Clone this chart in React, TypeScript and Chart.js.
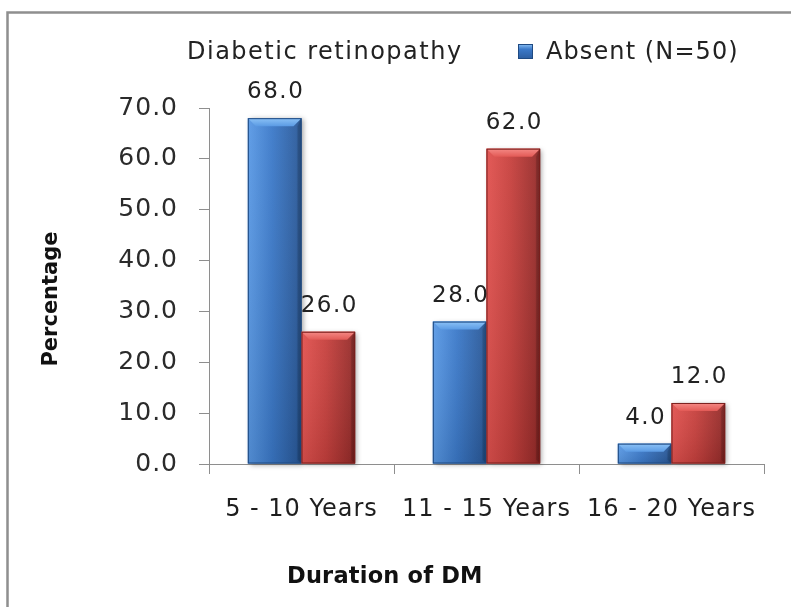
import React, { useEffect, useRef } from 'react';
import { Chart, registerables } from 'chart.js';

Chart.register(...registerables);

const categories = ['5 - 10 Years', '11 - 15 Years', '16 - 20 Years'];
const absentValues = [68.0, 28.0, 4.0];
const presentValues = [26.0, 62.0, 12.0];
const seriesLabels = ['Absent (N=50)', 'Present (N=50)'];
const legendTitle = 'Diabetic retinopathy';
const xAxisTitle = 'Duration of DM';
const yAxisTitle = 'Percentage';
const yTicks = [0, 10, 20, 30, 40, 50, 60, 70];

const FAMILY = "'DejaVu Sans', sans-serif";

const palettes = [
  { light: '#5a9ae6', mid: '#3b79c9', dark: '#2c5d9f', edge: '#1f4a82', bevelTop: '#8cc2f6', bevelBot: '#5b9be4' },
  { light: '#e2524f', mid: '#c7403d', dark: '#9c2e2c', edge: '#7a1f1d', bevelTop: '#f58a86', bevelBot: '#e25a56' },
];

const decorPlugin = {
  id: 'decor',
  beforeDraw(chart: any) {
    const ctx = chart.ctx;
    ctx.save();
    ctx.fillStyle = '#ffffff';
    ctx.fillRect(0, 0, chart.width, chart.height);
    ctx.strokeStyle = '#8f8f8f';
    ctx.lineWidth = 2.5;
    ctx.strokeRect(7.5, 12.5, chart.width + 40, chart.height + 40);
    ctx.restore();
    ctx.letterSpacing = '1px';
  },
  afterDatasetsDraw(chart: any) {
    const ctx = chart.ctx;
    chart.data.datasets.forEach((ds: any, di: number) => {
      const meta = chart.getDatasetMeta(di);
      const pal = palettes[di];
      meta.data.forEach((bar: any) => {
        const { x, y, base, width } = bar.getProps(['x', 'y', 'base', 'width'], true);
        const l = x - width / 2;
        const r = x + width / 2;
        const t = Math.min(y, base);
        const b = Math.max(y, base);
        const h = b - t;
        ctx.save();
        ctx.shadowColor = 'rgba(0,0,0,0.35)';
        ctx.shadowBlur = 5;
        ctx.shadowOffsetX = 2;
        ctx.shadowOffsetY = 1;
        const g = ctx.createLinearGradient(l, 0, r, 0);
        g.addColorStop(0, pal.light);
        g.addColorStop(0.45, pal.mid);
        g.addColorStop(0.9, pal.dark);
        g.addColorStop(1, pal.edge);
        ctx.fillStyle = g;
        ctx.fillRect(l, t, width, h);
        ctx.restore();

        ctx.save();
        const vg = ctx.createLinearGradient(0, t, 0, b);
        vg.addColorStop(0, 'rgba(255,255,255,0.05)');
        vg.addColorStop(1, 'rgba(0,0,0,0.10)');
        ctx.fillStyle = vg;
        ctx.fillRect(l, t, width, h);
        const bv = Math.min(8, h / 2, width / 4);
        const tg = ctx.createLinearGradient(0, t, 0, t + bv);
        tg.addColorStop(0, pal.bevelTop);
        tg.addColorStop(1, pal.bevelBot);
        ctx.fillStyle = tg;
        ctx.beginPath();
        ctx.moveTo(l, t);
        ctx.lineTo(r, t);
        ctx.lineTo(r - bv, t + bv);
        ctx.lineTo(l + bv, t + bv);
        ctx.closePath();
        ctx.fill();
        ctx.fillStyle = 'rgba(0,0,0,0.12)';
        ctx.beginPath();
        ctx.moveTo(r, t);
        ctx.lineTo(r, b);
        ctx.lineTo(r - 4, b - 4);
        ctx.lineTo(r - 4, t + bv);
        ctx.closePath();
        ctx.fill();
        ctx.strokeStyle = pal.edge;
        ctx.lineWidth = 1;
        ctx.strokeRect(l + 0.5, t + 0.5, width - 1, h - 1);
        ctx.restore();
      });
    });

    ctx.save();
    ctx.letterSpacing = '1.5px';
    ctx.font = `23px ${FAMILY}`;
    ctx.fillStyle = '#222222';
    ctx.textAlign = 'center';
    ctx.textBaseline = 'alphabetic';
    chart.data.datasets.forEach((ds: any, di: number) => {
      const meta = chart.getDatasetMeta(di);
      meta.data.forEach((bar: any, i: number) => {
        const { x, y } = bar.getProps(['x', 'y'], true);
        ctx.fillText(Number(ds.data[i]).toFixed(1), x + 1, y - 20);
      });
    });
    ctx.restore();
  },
  afterDraw(chart: any) {
    const ctx = chart.ctx;
    ctx.save();
    ctx.fillStyle = '#222222';
    ctx.textAlign = 'left';
    ctx.textBaseline = 'alphabetic';
    ctx.font = `24px ${FAMILY}`;
    ctx.letterSpacing = '1.5px';
    ctx.fillText(legendTitle, 187, 59);
    const sq = ctx.createLinearGradient(0, 44, 0, 59);
    sq.addColorStop(0, palettes[0].bevelTop);
    sq.addColorStop(0.35, palettes[0].mid);
    sq.addColorStop(1, palettes[0].dark);
    ctx.fillStyle = sq;
    ctx.fillRect(518, 44, 15, 15);
    ctx.strokeStyle = palettes[0].edge;
    ctx.lineWidth = 1;
    ctx.strokeRect(518.5, 44.5, 14, 14);
    ctx.fillStyle = '#222222';
    ctx.letterSpacing = '1.1px';
    ctx.fillText(chart.data.datasets[0].label, 546, 59);

    ctx.font = `bold 22.5px ${FAMILY}`;
    ctx.letterSpacing = '0.2px';
    ctx.fillStyle = '#111111';
    ctx.fillText(xAxisTitle, 287, 583);

    ctx.translate(57, 299);
    ctx.rotate(-Math.PI / 2);
    ctx.textAlign = 'center';
    ctx.font = `bold 21px ${FAMILY}`;
    ctx.letterSpacing = '0px';
    ctx.fillText(yAxisTitle, 0, 0);
    ctx.restore();
  },
};

export default function App() {
  const canvasRef = useRef<HTMLCanvasElement | null>(null);

  useEffect(() => {
    if (!canvasRef.current) return;
    const chart = new Chart(canvasRef.current, {
      type: 'bar',
      data: {
        labels: categories,
        datasets: [
          { label: seriesLabels[0], data: absentValues, backgroundColor: palettes[0].mid, borderColor: palettes[0].edge },
          { label: seriesLabels[1], data: presentValues, backgroundColor: palettes[1].mid, borderColor: palettes[1].edge },
        ],
      },
      options: {
        responsive: false,
        animation: false,
        layout: { padding: { left: 0, right: 27, top: 108, bottom: 0 } },
        datasets: { bar: { categoryPercentage: 0.58, barPercentage: 1.0 } },
        plugins: {
          legend: { display: false },
          tooltip: { enabled: false },
        },
        scales: {
          x: {
            ticks: {
              font: { family: FAMILY, size: 24 },
              color: '#1e1e1e',
              padding: 21,
              maxRotation: 0,
              autoSkip: false,
            },
            grid: { drawOnChartArea: false, tickLength: 10, color: '#8e8e8e', offset: true },
            border: { color: '#8e8e8e' },
            afterFit: (s: any) => {
              s.height = 143;
            },
          },
          y: {
            min: yTicks[0],
            max: yTicks[yTicks.length - 1],
            ticks: {
              stepSize: yTicks[1] - yTicks[0],
              callback: (v: any) => Number(v).toFixed(1),
              font: { family: FAMILY, size: 25 },
              color: '#2b2b2b',
              padding: 21,
            },
            grid: { drawOnChartArea: false, tickLength: 10, color: '#8e8e8e' },
            border: { color: '#8e8e8e' },
            afterFit: (s: any) => {
              s.width = 209;
            },
          },
        },
      },
      plugins: [decorPlugin],
    });
    return () => chart.destroy();
  }, []);

  return (
    <div style={{ position: 'absolute', left: 0, top: 0, width: 791, height: 607, background: '#fff' }}>
      <canvas ref={canvasRef} width={791} height={607} style={{ display: 'block' }} />
    </div>
  );
}
